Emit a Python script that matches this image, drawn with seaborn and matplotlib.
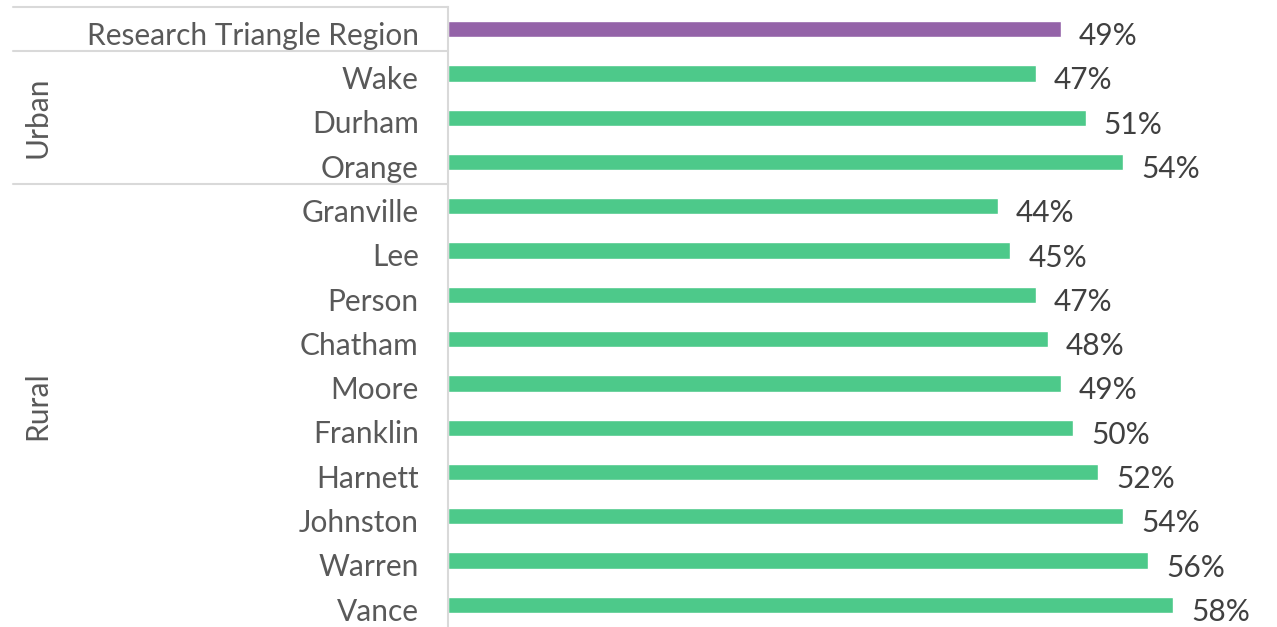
import matplotlib
matplotlib.use("Agg")
import matplotlib.pyplot as plt
import matplotlib.transforms as mtransforms
import seaborn as sns
import pandas as pd

# Share of population by area, Research Triangle region of North Carolina
categories = ["Research Triangle Region", "Wake", "Durham", "Orange",
              "Granville", "Lee", "Person", "Chatham", "Moore", "Franklin",
              "Harnett", "Johnston", "Warren", "Vance"]
values = [0.49, 0.47, 0.51, 0.54,
          0.44, 0.45, 0.47, 0.48, 0.49, 0.50,
          0.52, 0.54, 0.56, 0.58]
groups = ["Region", "Urban", "Urban", "Urban",
          "Rural", "Rural", "Rural", "Rural", "Rural", "Rural",
          "Rural", "Rural", "Rural", "Rural"]

REGION_COLOR = "#9463a8"
COUNTY_COLOR = "#4dc98a"
TEXT_COLOR = "#595959"
VALUE_COLOR = "#404040"
RULE_COLOR = "#d9d9d9"
FS = 21.5

df = pd.DataFrame({"area": categories, "share": values, "group": groups})
palette = {a: (REGION_COLOR if g == "Region" else COUNTY_COLOR)
           for a, g in zip(categories, groups)}

sns.set_theme(style="white")
plt.rcParams["font.family"] = ["Lato", "DejaVu Sans"]

W, H = 1277, 627
fig = plt.figure(figsize=(W / 100, H / 100), dpi=100)
ax_left, ax_right, ax_top, ax_bottom = 448, 1275, 7, 627
ax = fig.add_axes([ax_left / W, 1 - ax_bottom / H,
                   (ax_right - ax_left) / W, (ax_bottom - ax_top) / H])

sns.barplot(data=df, x="share", y="area", hue="area", palette=palette,
            legend=False, width=0.37, saturation=1, ax=ax, orient="h")

ax.set_xlim(0, (ax_right - ax_left) / 12.5 / 100)
ax.set_ylim(len(categories) - 0.5, -0.5)
ax.set_xlabel("")
ax.set_ylabel("")
ax.set_xticks([])
ax.tick_params(axis="y", length=0, pad=21, labelsize=FS, labelcolor=TEXT_COLOR)

# nudge category names slightly below the bar centres
shift = mtransforms.ScaledTranslation(0, -3 / 72, fig.dpi_scale_trans)
for lab in ax.get_yticklabels():
    lab.set_transform(lab.get_transform() + shift)

for s in ["top", "right", "bottom"]:
    ax.spines[s].set_visible(False)
ax.spines["left"].set_color(RULE_COLOR)
ax.spines["left"].set_linewidth(1.5)

# value labels at the end of each bar
for i, v in enumerate(values):
    ax.annotate(f"{v:.0%}", xy=(v, i), xytext=(13, -5),
                textcoords="offset points", ha="left", va="center",
                fontsize=FS, color=VALUE_COLOR)

# group rules and rotated group names in the left margin
trans = ax.get_yaxis_transform()
x0 = -(ax_left - 13) / (ax_right - ax_left)
for yb in [-0.5, 0.5, 3.5]:
    ax.plot([x0, 0], [yb, yb], color=RULE_COLOR, lw=1.5,
            transform=trans, clip_on=False)

x_grp = -(ax_left - 37) / (ax_right - ax_left)
ax.text(x_grp, 2.0, "Urban", rotation=90, ha="center", va="center",
        fontsize=FS, color=TEXT_COLOR, transform=trans)
ax.text(x_grp, 8.5, "Rural", rotation=90, ha="center", va="center",
        fontsize=FS, color=TEXT_COLOR, transform=trans)

fig.savefig("out.png", dpi=100)
